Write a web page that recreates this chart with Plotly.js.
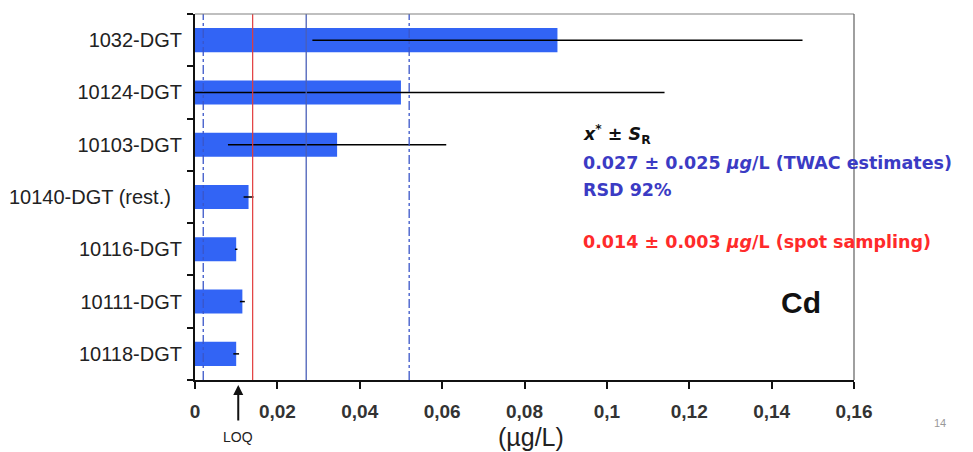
<!DOCTYPE html>
<html>
<head>
<meta charset="utf-8">
<script src="https://cdn.plot.ly/plotly-3.0.1.min.js"></script>
<style>
  html, body { margin: 0; padding: 0; background: #ffffff; }
  #chart { width: 973px; height: 452px; }
</style>
</head>
<body>
<div id="chart"></div>
<script>
// ---- data ----
const categories = ['1032-DGT', '10124-DGT', '10103-DGT', '10140-DGT (rest.)', '10116-DGT', '10111-DGT', '10118-DGT'];
const tickLabels = ['1032-DGT', '10124-DGT', '10103-DGT', '10140-DGT (rest.)\u00a0\u00a0', '10116-DGT', '10111-DGT', '10118-DGT'];
const values = [0.088, 0.050, 0.0345, 0.013, 0.010, 0.0115, 0.010];
const errors = [0.0595, 0.064, 0.0265, 0.0012, 0.0003, 0.0006, 0.0007];
const xTicks = [0, 0.02, 0.04, 0.06, 0.08, 0.1, 0.12, 0.14, 0.16];
const consensusMean = 0.027;   // x*
const consensusSd = 0.025;     // S_R
const spotMean = 0.014;        // spot sampling
const loqValue = 0.0105;

// ---- layout geometry (pixels) ----
const W = 973, H = 452;
const M = {l: 195, r: 119, t: 14, b: 72};
const PW = W - M.l - M.r, PH = H - M.t - M.b;
const px = x => (x - M.l) / PW;
const py = y => (H - M.b - y) / PH;

const trace = {
  type: 'bar',
  orientation: 'h',
  y: categories,
  x: values,
  width: 0.46,
  marker: {color: '#3264f5', line: {width: 0}},
  error_x: {type: 'data', array: errors, visible: true, color: '#000000', thickness: 1.5, width: 0},
  hoverinfo: 'x+y'
};

const blue = '#3a56c8';
const shapes = [
  {type: 'line', xref: 'x', yref: 'paper', x0: consensusMean - consensusSd, x1: consensusMean - consensusSd, y0: 0, y1: 1,
   line: {color: blue, width: 1.3, dash: 'dashdot'}},
  {type: 'line', xref: 'x', yref: 'paper', x0: spotMean, x1: spotMean, y0: 0, y1: 1,
   line: {color: '#e23b3b', width: 1.2}},
  {type: 'line', xref: 'x', yref: 'paper', x0: consensusMean, x1: consensusMean, y0: 0, y1: 1,
   line: {color: '#4a5fb8', width: 1.3}},
  {type: 'line', xref: 'x', yref: 'paper', x0: consensusMean + consensusSd, x1: consensusMean + consensusSd, y0: 0, y1: 1,
   line: {color: blue, width: 1.3, dash: 'dashdot'}},
  // frame top & right
  {type: 'line', xref: 'paper', yref: 'paper', x0: 0, x1: 1, y0: 1, y1: 1, line: {color: '#808080', width: 1.2}},
  {type: 'line', xref: 'paper', yref: 'paper', x0: 1, x1: 1, y0: 0, y1: 1, line: {color: '#606060', width: 1.2}}
];

const txtFont = 'DejaVu Sans, sans-serif';
const arial = 'Liberation Sans, Arial, sans-serif';
const annotations = [
  {xref: 'paper', yref: 'paper', x: px(581), y: py(134), xanchor: 'left', yanchor: 'middle', showarrow: false,
   text: '<i>x</i><sup>*</sup> ± <i>S</i><sub>R</sub>', font: {family: txtFont, size: 17.5, color: '#111111', weight: 'bold'}},
  {xref: 'paper', yref: 'paper', x: px(581), y: py(163), xanchor: 'left', yanchor: 'middle', showarrow: false,
   text: '0.027 ± 0.025 <i>µg</i>/L (TWAC estimates)', font: {family: txtFont, size: 17.5, color: '#3b3bc4', weight: 'bold'}},
  {xref: 'paper', yref: 'paper', x: px(581), y: py(190), xanchor: 'left', yanchor: 'middle', showarrow: false,
   text: 'RSD 92%', font: {family: txtFont, size: 17.5, color: '#3b3bc4', weight: 'bold'}},
  {xref: 'paper', yref: 'paper', x: px(581), y: py(242), xanchor: 'left', yanchor: 'middle', showarrow: false,
   text: '0.014 ± 0.003 <i>µg</i>/L (spot sampling)', font: {family: txtFont, size: 17.5, color: '#ff2a2a', weight: 'bold'}},
  {xref: 'paper', yref: 'paper', x: px(801), y: py(302), xanchor: 'center', yanchor: 'middle', showarrow: false,
   text: 'Cd', font: {family: arial, size: 30, color: '#111111', weight: 'bold'}},
  {xref: 'paper', yref: 'paper', x: px(531), y: py(437), xanchor: 'center', yanchor: 'middle', showarrow: false,
   text: '(µg/L)', font: {family: arial, size: 25, color: '#222222'}},
  {xref: 'paper', yref: 'paper', x: px(940), y: py(423), xanchor: 'center', yanchor: 'middle', showarrow: false,
   text: '14', font: {family: arial, size: 11, color: '#999999'}},
  // LOQ arrow
  {xref: 'x', yref: 'paper', x: loqValue, y: py(385), ax: 0, ay: 37, showarrow: true,
   arrowhead: 2, arrowsize: 1, arrowwidth: 2, arrowcolor: '#111111', text: ''},
  {xref: 'x', yref: 'paper', x: loqValue, y: py(437), xanchor: 'center', yanchor: 'middle', showarrow: false,
   text: 'LOQ', font: {family: arial, size: 14, color: '#222222'}}
];

const layout = {
  width: W, height: H,
  margin: M,
  paper_bgcolor: '#ffffff',
  plot_bgcolor: '#ffffff',
  showlegend: false,
  separators: ',.',
  font: {family: arial, color: '#222222'},
  xaxis: {
    range: [0, 0.16],
    tickvals: xTicks,
    ticks: 'outside', ticklen: 7, tickwidth: 2, tickcolor: '#111111',
    showline: true, linecolor: '#111111', linewidth: 2,
    showgrid: false, zeroline: false,
    tickfont: {size: 19, color: '#333333', weight: 'bold'},
    ticklabelstandoff: 6,
    fixedrange: true
  },
  yaxis: {
    categoryorder: 'array', categoryarray: categories,
    tickvals: categories, ticktext: tickLabels,
    autorange: 'reversed',
    ticks: 'outside', tickson: 'boundaries', ticklen: 6, tickwidth: 2, tickcolor: '#111111',
    showline: true, linecolor: '#111111', linewidth: 2,
    showgrid: false, zeroline: false,
    tickfont: {size: 20, color: '#222222'},
    ticklabelstandoff: 7,
    fixedrange: true
  },
  shapes: shapes,
  annotations: annotations
};

Plotly.newPlot('chart', [trace], layout, {displayModeBar: false, staticPlot: true});
</script>
</body>
</html>
